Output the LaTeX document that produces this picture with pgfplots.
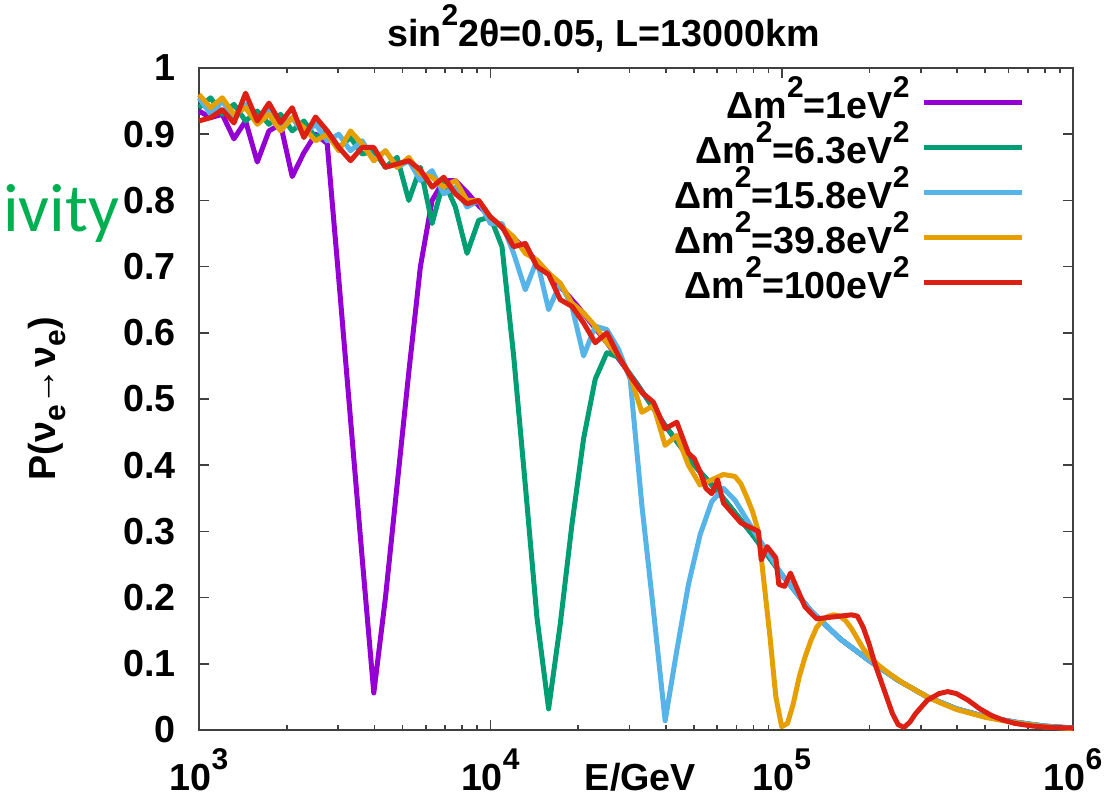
\documentclass[border=0pt]{standalone}
\usepackage{fontspec}
\setmainfont{Liberation Sans}
\newfontfamily\slidefont{Carlito}
\usepackage{pgfplots}
\pgfplotsset{compat=1.18}
\definecolor{cpurple}{RGB}{148,0,211}
\definecolor{cgreen}{RGB}{0,158,115}
\definecolor{cblue}{RGB}{86,180,233}
\definecolor{corange}{RGB}{230,159,0}
\definecolor{cred}{RGB}{220,32,20}
\definecolor{slidegreen}{RGB}{0,176,80}
\newcommand{\su}[1]{\raisebox{0.55em}{\fontsize{9}{9}\selectfont #1}}
\newcommand{\sub}[1]{\raisebox{-0.28em}{\fontsize{9}{9}\selectfont #1}}
\begin{document}
\begin{tikzpicture}
\begin{axis}[
    name=ax,
    scale only axis,
    width=262.2pt, height=198.6pt,
    xmode=log,
    xmin=1000, xmax=1000000,
    ymin=0, ymax=1,
    clip=false,
    font=\bfseries\fontsize{11.3}{13.5}\selectfont,
    /pgf/number format/assume math mode=true,
    xtick={1000,10000,100000,1000000},
    xticklabels={10\su{3},10\su{4},10\su{5},10\su{6}},
    minor xtick={2000,3000,4000,5000,6000,7000,8000,9000,
                 20000,30000,40000,50000,60000,70000,80000,90000,
                 200000,300000,400000,500000,600000,700000,800000,900000},
    ytick={0,0.1,0.2,0.3,0.4,0.5,0.6,0.7,0.8,0.9,1},
    yticklabels={0,0.1,0.2,0.3,0.4,0.5,0.6,0.7,0.8,0.9,1},
    tick pos=both,
    tick align=inside,
    major tick length=3pt,
    minor tick length=1.6pt,
    every tick/.style={black!75, line width=0.5pt},
    axis line style={black!75, line width=0.6pt},
    xticklabel style={anchor=base, yshift=-18pt},
    yticklabel style={anchor=east, xshift=-3.5pt},
    xlabel={E/GeV},
    xlabel style={at={(rel axis cs:0.505,0)}, anchor=base, yshift=-18pt},
    ylabel={P(ν\sub{e}→ν\sub{e})},
    every axis y label/.style={at={(rel axis cs:-0.174,0.5)}, anchor=center, rotate=90},
    title={sin\su{2}2θ=0.05, L=13000km},
    every axis title/.style={at={(rel axis cs:0.463,1)}, anchor=base, yshift=6.6pt},
    legend plot pos=right,
    legend cell align=right,
    legend style={at={(rel axis cs:0.945,0.970)}, anchor=north east,
        draw=none, fill=none, inner sep=0pt, row sep=0pt, column sep=3.5pt,
        nodes={inner sep=0pt, text height=9pt, text depth=4.5pt}},
    legend image code/.code={\draw[#1, line width=1.5pt] (0pt,2.5pt) -- (29.4pt,2.5pt);},
    every axis plot/.append style={line width=1.5pt, line join=round, mark=none},
]
% Dm2 = 1 eV2
\addplot[cpurple] coordinates {
(1000,0.935) (1096,0.925) (1202,0.93) (1318,0.893) (1445,0.92) (1585,0.858)
(1738,0.905) (1905,0.915) (2089,0.836) (2291,0.872) (2512,0.9) (2754,0.886)
(3020,0.68) (3311,0.47) (3631,0.26) (3981,0.056) (4365,0.20) (4786,0.37)
(5248,0.54) (5754,0.70) (6310,0.80) (6918,0.83) (7586,0.83) (8318,0.812)
(9120,0.792) (10000,0.775) (12589,0.735) (15849,0.69) (19953,0.64) (25119,0.585)
(31623,0.525) (39811,0.46) (50119,0.40) (63096,0.35) (79433,0.295) (100000,0.235)
(125893,0.18) (158489,0.138) (199526,0.105) (251189,0.075) (316228,0.05)
(398107,0.032) (501187,0.02) (630957,0.012) (794328,0.006) (1000000,0.003)
};
% Dm2 = 6.3 eV2
\addplot[cgreen] coordinates {
(1000,0.94) (1096,0.955) (1202,0.93) (1318,0.945) (1445,0.92) (1585,0.935)
(1738,0.915) (1905,0.93) (2089,0.905) (2291,0.92) (2512,0.895) (2754,0.905)
(3020,0.88) (3311,0.895) (3631,0.87) (3981,0.875) (4365,0.85) (4786,0.865)
(5248,0.80) (5754,0.85) (6310,0.765) (6918,0.83) (7586,0.79) (8318,0.72)
(9120,0.77) (10000,0.775) (10965,0.73) (12023,0.565) (13183,0.37) (14454,0.17)
(15849,0.032) (17378,0.16) (19055,0.31) (20893,0.44) (22909,0.53) (25119,0.57)
(27542,0.563) (30200,0.537) (33113,0.512) (36308,0.486) (39811,0.46)
(50119,0.40) (63096,0.35) (79433,0.295) (100000,0.235)
(125893,0.18) (158489,0.138) (199526,0.105) (251189,0.075) (316228,0.05)
(398107,0.032) (501187,0.02) (630957,0.012) (794328,0.006) (1000000,0.003)
};
% Dm2 = 15.8 eV2
\addplot[cblue] coordinates {
(1000,0.955) (1096,0.93) (1202,0.95) (1318,0.925) (1445,0.945) (1585,0.92)
(1738,0.94) (1905,0.91) (2089,0.925) (2291,0.90) (2512,0.915) (2754,0.89)
(3020,0.9) (3311,0.875) (3631,0.89) (3981,0.86) (4365,0.875) (4786,0.85)
(5248,0.86) (5754,0.83) (6310,0.845) (6918,0.81) (7586,0.82) (8318,0.79)
(9120,0.8) (10000,0.765) (10965,0.765) (12023,0.72) (13183,0.665) (14454,0.71)
(15849,0.635) (17378,0.675) (19055,0.64) (20893,0.565) (22909,0.61) (25119,0.605)
(27542,0.575) (30200,0.53) (33113,0.34) (36308,0.18) (39811,0.014) (43652,0.12)
(47863,0.22) (52481,0.295) (57544,0.345) (63096,0.365) (69183,0.347) (75858,0.318)
(83176,0.29) (91201,0.263) (100000,0.235)
(125893,0.18) (158489,0.138) (199526,0.105) (251189,0.075) (316228,0.05)
(398107,0.032) (501187,0.02) (630957,0.012) (794328,0.006) (1000000,0.003)
};
% Dm2 = 39.8 eV2
\addplot[corange] coordinates {
(1000,0.96) (1096,0.94) (1202,0.955) (1318,0.93) (1445,0.94) (1585,0.915)
(1738,0.93) (1905,0.905) (2089,0.925) (2291,0.91) (2512,0.89) (2754,0.9)
(3020,0.875) (3311,0.905) (3631,0.885) (3981,0.86) (4365,0.875) (4786,0.85)
(5248,0.865) (5754,0.84) (6310,0.835) (6918,0.82) (7586,0.83) (8318,0.80)
(9120,0.80) (10000,0.775) (10965,0.76) (12023,0.745) (13183,0.72) (14454,0.71)
(15849,0.69) (17378,0.675) (19055,0.645) (20893,0.63) (22909,0.61) (25119,0.585)
(27542,0.565) (30200,0.535) (33113,0.48) (36308,0.49) (39811,0.43) (43652,0.445)
(47863,0.40) (52481,0.37) (57544,0.378) (63096,0.386) (69183,0.383) (72444,0.372)
(75858,0.352) (79433,0.33) (83176,0.30) (87096,0.22) (91201,0.14) (95499,0.05)
(100000,0.005) (104713,0.01) (109648,0.04) (114815,0.08) (120226,0.11)
(125893,0.135) (131826,0.155) (138038,0.166) (144544,0.172) (151356,0.174)
(158489,0.172) (165959,0.165) (173780,0.153) (181970,0.138) (190546,0.123)
(199526,0.111) (218776,0.095) (239883,0.082) (263027,0.07) (288403,0.06)
(316228,0.05) (354813,0.04) (398107,0.031) (501187,0.019) (630957,0.011)
(794328,0.005) (1000000,0.002)
};
% Dm2 = 100 eV2
\addplot[cred] coordinates {
(1000,0.92) (1096,0.925) (1202,0.937) (1318,0.917) (1445,0.962) (1585,0.92)
(1738,0.947) (1905,0.917) (2089,0.94) (2291,0.895) (2512,0.926) (2754,0.905)
(3020,0.88) (3311,0.86) (3631,0.88) (3981,0.88) (4365,0.85) (4786,0.855)
(5248,0.86) (5754,0.846) (6310,0.82) (6918,0.835) (7586,0.81) (8318,0.795)
(9120,0.80) (10000,0.775) (10965,0.76) (12023,0.73) (13183,0.735) (14454,0.70)
(15849,0.688) (17378,0.65) (19055,0.64) (20893,0.615) (22909,0.585) (25119,0.60)
(27542,0.565) (30200,0.535) (33113,0.51) (36308,0.495) (39811,0.455) (43652,0.465)
(47863,0.418) (50119,0.41) (52481,0.39) (54954,0.365) (57544,0.357) (60256,0.378)
(63096,0.343) (72444,0.313) (83176,0.30) (85114,0.257) (89125,0.277) (95499,0.26)
(97724,0.22) (102329,0.217) (107152,0.237) (120226,0.186) (131826,0.168)
(144544,0.17) (158489,0.172) (173780,0.174) (181970,0.172) (190546,0.155)
(199526,0.13) (208930,0.10) (218776,0.075) (229087,0.05) (239883,0.025)
(251189,0.008) (263027,0.004) (275423,0.012) (288403,0.025) (316228,0.045)
(346737,0.055) (371535,0.058) (398107,0.055) (436516,0.045) (478630,0.032)
(524807,0.022) (575440,0.015) (630957,0.01) (724436,0.006) (831764,0.004)
(1000000,0.003)
};
\legend{Δm\su{2}=1eV\su{2}, Δm\su{2}=6.3eV\su{2}, Δm\su{2}=15.8eV\su{2},
        Δm\su{2}=39.8eV\su{2}, Δm\su{2}=100eV\su{2}}
\node[anchor=base east, inner sep=0pt, text=slidegreen,
      font=\slidefont\fontsize{20.5}{24}\selectfont]
      at (rel axis cs:-0.0904,0.7523) {ivity};
\coordinate (sw) at (rel axis cs:0,0);
\end{axis}
\pgfresetboundingbox
\path ([shift={(-59.7pt,219pt)}]sw) rectangle ([shift={(272.1pt,-20.4pt)}]sw);
\end{tikzpicture}
\end{document}
